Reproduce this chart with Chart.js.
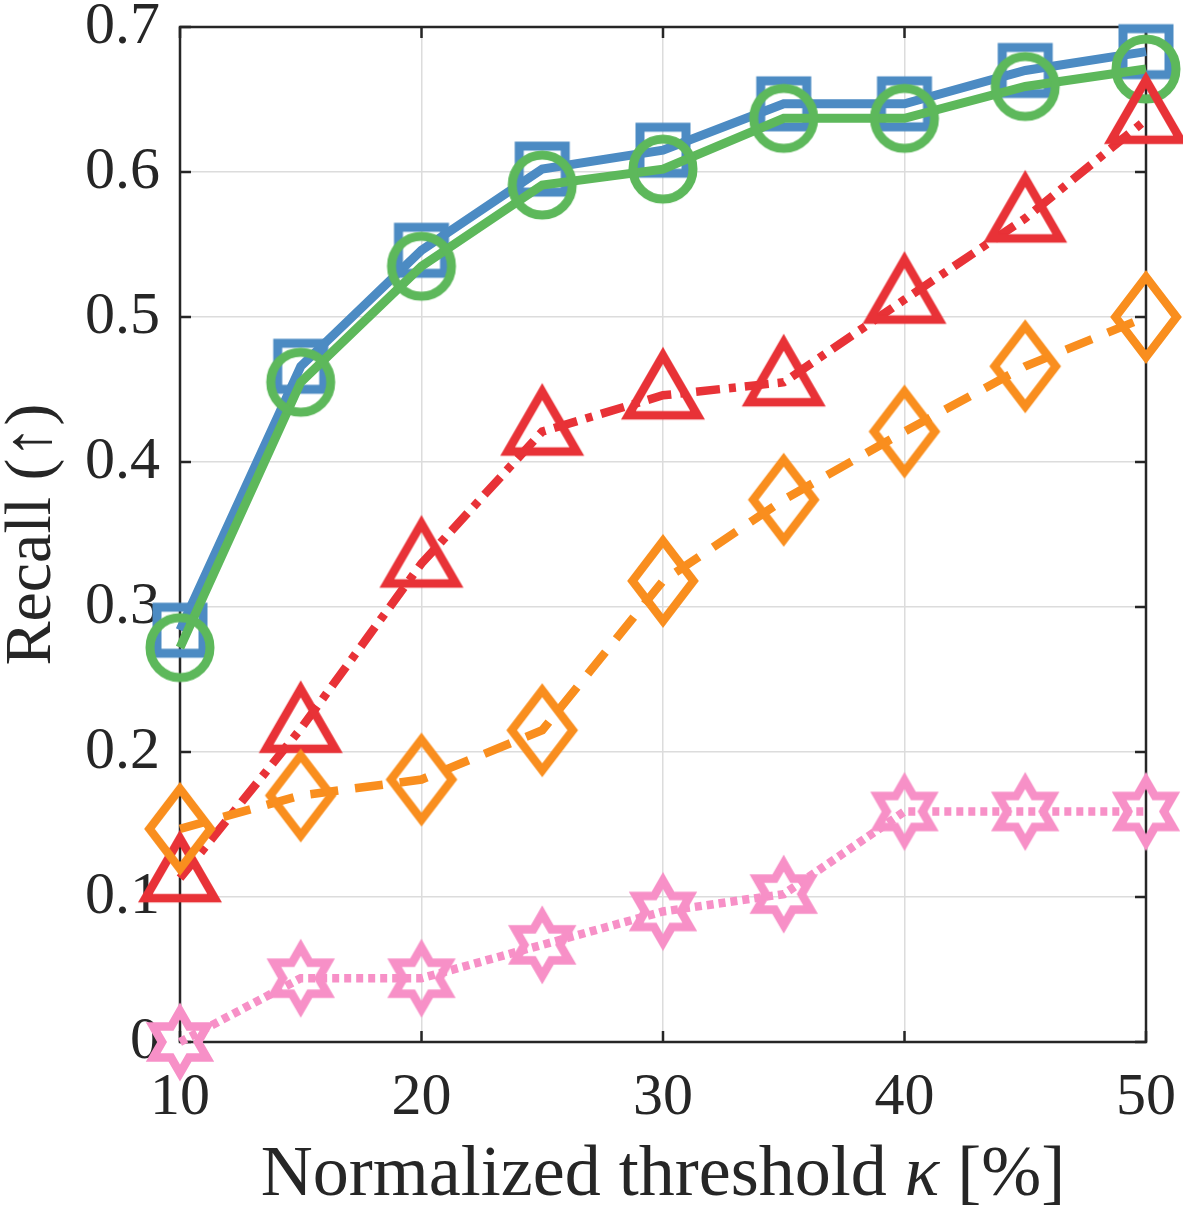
<!DOCTYPE html>
<html>
<head>
<meta charset="utf-8">
<script src="https://cdn.jsdelivr.net/npm/chart.js@4.4.1/dist/chart.umd.min.js"></script>
<style>
  html, body { margin: 0; padding: 0; background: #fff; }
</style>
</head>
<body>
<canvas id="recall" width="1183" height="1214"></canvas>
<script>
// data
const thresholds = [10, 15, 20, 25, 30, 35, 40, 45, 50];
const recallBlue   = [0.284, 0.466, 0.546, 0.602, 0.615, 0.647, 0.647, 0.670, 0.683];
const recallGreen  = [0.272, 0.455, 0.535, 0.591, 0.602, 0.637, 0.637, 0.659, 0.671];
const recallRed    = [0.113, 0.216, 0.330, 0.421, 0.446, 0.455, 0.512, 0.568, 0.636];
const recallOrange = [0.147, 0.170, 0.181, 0.215, 0.318, 0.374, 0.421, 0.466, 0.500];
const recallPink   = [0.000, 0.044, 0.044, 0.067, 0.090, 0.102, 0.159, 0.159, 0.159];

const xTicks = [10, 20, 30, 40, 50];
const yTicks = [0, 0.1, 0.2, 0.3, 0.4, 0.5, 0.6, 0.7];
const xTitleParts = ['Normalized threshold ', 'κ', ' [%]'];
const yTitle = 'Recall (↑)';

const FONT = 'Liberation Serif';
const INK = '#262626';

// MATLAB-like hollow markers drawn once on small canvases
function marker(shape, color, lw) {
  const c = document.createElement('canvas');
  c.width = c.height = 110;
  const g = c.getContext('2d');
  g.translate(55, 55);
  g.strokeStyle = color;
  g.lineWidth = lw;
  g.lineJoin = 'miter';
  g.miterLimit = 10;
  g.beginPath();
  if (shape === 'square') {
    g.rect(-23, -23, 46, 46);
  } else if (shape === 'circle') {
    g.arc(0, 0, 30, 0, Math.PI * 2);
  } else if (shape === 'triangle') {
    const R = 40, s = Math.sin(Math.PI / 3);
    g.moveTo(0, -R);
    g.lineTo(R * s, R / 2);
    g.lineTo(-R * s, R / 2);
    g.closePath();
  } else if (shape === 'diamond') {
    g.moveTo(0, -40);
    g.lineTo(30.5, 0);
    g.lineTo(0, 40);
    g.lineTo(-30.5, 0);
    g.closePath();
  } else if (shape === 'hexagram') {
    const R = 31, r = R / Math.sqrt(3);
    for (let k = 0; k < 12; k++) {
      const a = -Math.PI / 2 + k * Math.PI / 6;
      const rr = k % 2 ? r : R;
      if (k === 0) g.moveTo(rr * Math.cos(a), rr * Math.sin(a));
      else g.lineTo(rr * Math.cos(a), rr * Math.sin(a));
    }
    g.closePath();
  }
  g.stroke();
  return c;
}

function series(values, color, shape, dash, width, order) {
  return {
    data: thresholds.map((t, i) => ({ x: t, y: values[i] })),
    borderColor: color,
    borderWidth: width,
    borderDash: dash,
    pointStyle: marker(shape, color, width),
    pointRadius: 35,
    clip: false,
    tension: 0,
    order: order
  };
}

const matlabBox = {
  id: 'matlabBox',
  beforeDatasetsDraw(chart) {
    const { ctx, chartArea: a, scales: { x, y } } = chart;
    ctx.save();
    ctx.strokeStyle = INK;
    ctx.lineWidth = 2.5;
    ctx.beginPath();
    xTicks.forEach(v => {
      const px = x.getPixelForValue(v);
      ctx.moveTo(px, a.bottom); ctx.lineTo(px, a.bottom - 11);
      ctx.moveTo(px, a.top); ctx.lineTo(px, a.top + 11);
    });
    yTicks.forEach(v => {
      const py = y.getPixelForValue(v);
      ctx.moveTo(a.left, py); ctx.lineTo(a.left + 11, py);
      ctx.moveTo(a.right, py); ctx.lineTo(a.right - 11, py);
    });
    ctx.stroke();
    ctx.strokeRect(a.left, a.top, a.right - a.left, a.bottom - a.top);
    ctx.restore();
  },
  afterDraw(chart) {
    const { ctx, chartArea: a } = chart;
    const fonts = ['72px "' + FONT + '"', 'italic 72px "' + FONT + '"', '72px "' + FONT + '"'];
    ctx.save();
    ctx.fillStyle = INK;
    ctx.textBaseline = 'alphabetic';
    const widths = xTitleParts.map((t, i) => { ctx.font = fonts[i]; return ctx.measureText(t).width; });
    let xPos = (a.left + a.right) / 2 - widths.reduce((s, w) => s + w, 0) / 2;
    xTitleParts.forEach((t, i) => {
      ctx.font = fonts[i];
      ctx.fillText(t, xPos, 1195);
      xPos += widths[i];
    });
    ctx.restore();
  }
};

new Chart(document.getElementById('recall'), {
  type: 'line',
  data: {
    datasets: [
      series(recallBlue, '#4C8BC3', 'square', [], 9, 5),
      series(recallGreen, '#5DB85B', 'circle', [], 9, 4),
      series(recallRed, '#E83237', 'triangle', [24, 9, 7, 9], 8.5, 3),
      series(recallOrange, '#F98E1E', 'diamond', [28, 17], 8.5, 2),
      series(recallPink, '#F790C7', 'hexagram', [7, 5], 8.5, 1)
    ]
  },
  options: {
    responsive: false,
    devicePixelRatio: 1,
    animation: false,
    layout: { autoPadding: false, padding: { top: 27, right: 37, left: 0, bottom: 0 } },
    plugins: { legend: { display: false }, tooltip: { enabled: false } },
    scales: {
      x: {
        type: 'linear',
        min: 10,
        max: 50,
        afterBuildTicks: s => { s.ticks = xTicks.map(v => ({ value: v })); },
        afterFit: s => { s.height = 172; s.paddingLeft = 0; s.paddingRight = 0; },
        grid: { color: '#DCDCDC', lineWidth: 1.5, drawTicks: false },
        border: { display: false },
        ticks: { padding: 20, color: INK, maxRotation: 0, font: { family: FONT, size: 60 } }
      },
      y: {
        type: 'linear',
        min: 0,
        max: 0.7,
        afterBuildTicks: s => { s.ticks = yTicks.map(v => ({ value: v })); },
        afterFit: s => { s.width = 180; s.paddingTop = 0; s.paddingBottom = 0; },
        grid: { color: '#DCDCDC', lineWidth: 1.5, drawTicks: false },
        border: { display: false },
        ticks: {
          padding: 20,
          color: INK,
          font: { family: FONT, size: 60 },
          callback: v => (v === 0 ? '0' : v.toFixed(1))
        },
        title: {
          display: true,
          text: yTitle,
          color: INK,
          padding: 0,
          font: { family: FONT, size: 66, lineHeight: 1.0 }
        }
      }
    }
  },
  plugins: [matlabBox]
});
</script>
</body>
</html>
